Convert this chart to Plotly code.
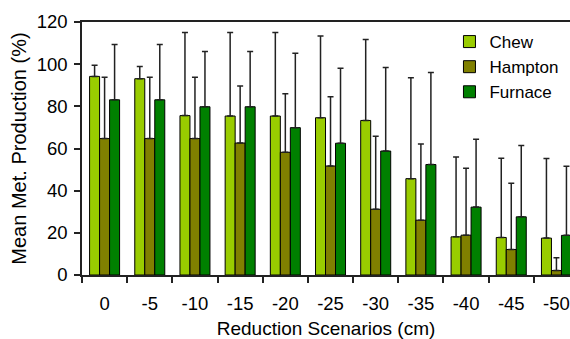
import plotly.graph_objects as go

categories = ["0", "-5", "-10", "-15", "-20", "-25", "-30", "-35", "-40", "-45", "-50"]

chew = [94.2, 93.1, 75.6, 75.4, 75.4, 74.6, 73.3, 45.7, 18.1, 17.8, 17.5]
chew_err_top = [99.5, 98.9, 115.0, 115.0, 115.0, 113.4, 111.7, 93.5, 56.0, 55.4, 55.2]

hampton = [64.7, 64.7, 64.7, 62.6, 58.2, 51.7, 31.2, 26.0, 18.9, 12.1, 2.1]
hampton_err_top = [93.8, 93.8, 93.8, 89.6, 86.0, 84.5, 65.8, 62.1, 50.6, 43.5, 8.2]

furnace = [83.1, 83.1, 79.8, 79.8, 69.9, 62.5, 58.8, 52.4, 32.2, 27.6, 18.8]
furnace_err_top = [109.3, 109.3, 106.0, 106.0, 105.2, 98.1, 98.4, 96.0, 64.4, 61.4, 51.6]

series = [
    ("Chew", chew, chew_err_top, "#99CC00"),
    ("Hampton", hampton, hampton_err_top, "#808000"),
    ("Furnace", furnace, furnace_err_top, "#008000"),
]

FONT = "Liberation Sans, Arial, sans-serif"

fig = go.Figure()
for name, vals, tops, color in series:
    fig.add_trace(go.Bar(
        name=name,
        x=categories,
        y=vals,
        marker=dict(color=color, line=dict(color="#000000", width=1)),
        error_y=dict(
            type="data",
            symmetric=False,
            array=[t - v for t, v in zip(tops, vals)],
            arrayminus=[0] * len(vals),
            color="#222222",
            thickness=1.5,
            width=3,
        ),
    ))

fig.update_layout(
    width=570,
    height=339,
    margin=dict(l=82, r=0, t=22, b=64),
    paper_bgcolor="white",
    plot_bgcolor="white",
    barmode="group",
    bargap=0.336,
    bargroupgap=0,
    font=dict(family=FONT, size=18, color="#000000"),
    showlegend=True,
    legend=dict(
        x=0.753, y=0.992, xanchor="left", yanchor="top",
        font=dict(family=FONT, size=17, color="#000000"),
        bgcolor="rgba(0,0,0,0)",
        tracegroupgap=0,
    ),
    xaxis=dict(
        type="category",
        range=[-0.5, 10.3],
        tickson="boundaries",
        ticks="outside",
        ticklen=6,
        tickcolor="#222222",
        tickwidth=1.5,
        showline=True,
        linecolor="#222222",
        linewidth=1.5,
        mirror=True,
        showgrid=False,
        tickfont=dict(family=FONT, size=18.5),
        ticklabelstandoff=11,
        title=dict(text="Reduction Scenarios (cm)", font=dict(family=FONT, size=19), standoff=10),
        automargin=False,
    ),
    yaxis=dict(
        range=[0, 120],
        dtick=20,
        ticks="outside",
        ticklen=6,
        tickcolor="#222222",
        tickwidth=1.5,
        showline=True,
        linecolor="#222222",
        linewidth=1.5,
        showgrid=False,
        zeroline=False,
        tickfont=dict(family=FONT, size=18.5),
        ticklabelstandoff=3,
        title=dict(text="Mean Met. Production (%)", font=dict(family=FONT, size=20), standoff=5),
        automargin=False,
    ),
)

fig.write_html(
    "out.html",
    config={"displayModeBar": False},
    post_script="document.body.style.margin='0';document.documentElement.style.overflow='hidden';document.body.style.overflow='hidden';",
)
